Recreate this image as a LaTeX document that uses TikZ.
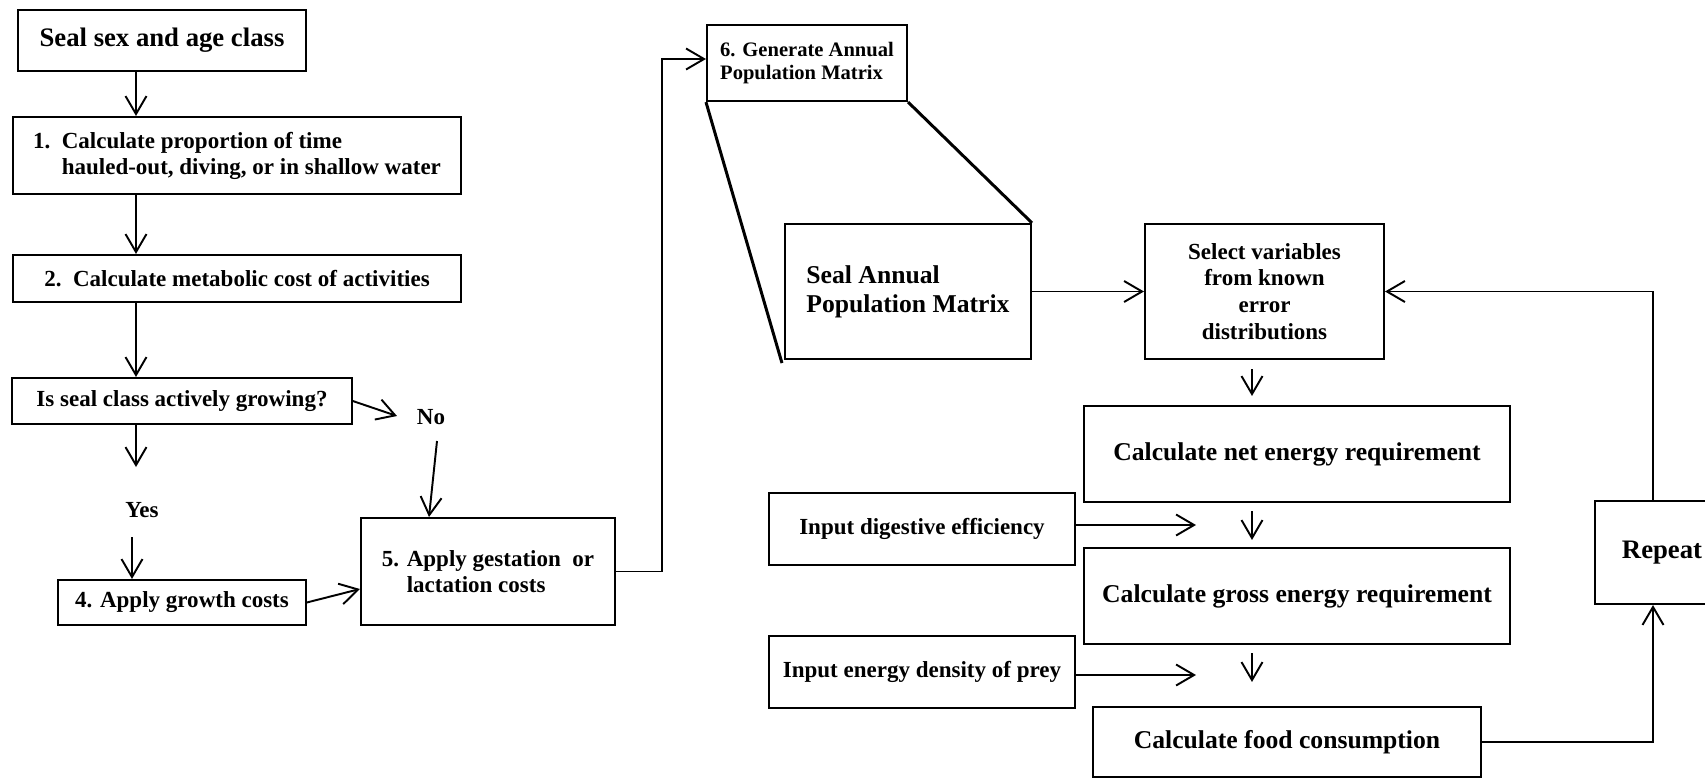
\documentclass[tikz,border=0pt]{standalone}
\usepackage{fontspec}
\setmainfont{Liberation Serif}
\usetikzlibrary{arrows.meta}

\begin{document}
\begin{tikzpicture}[x=0.02cm,y=-0.02cm,
	box/.style={draw,line width=1.2pt,inner sep=0pt,align=left},
	lbl/.style={inner sep=0pt},
	fS/.style={font=\fontsize{13.1}{14.8}\selectfont\bfseries},
	fT/.style={font=\fontsize{11.7}{13.1}\selectfont\bfseries},
	fL/.style={font=\fontsize{14.6}{16.5}\selectfont\bfseries},
	fH/.style={font=\fontsize{15.2}{17}\selectfont\bfseries},
	arr/.style={line width=1.1pt,-{Straight Barb[length=0.36cm,width=0.42cm]}}]
	\useasboundingbox (0,0) rectangle (1705,778);
	\clip (0,0) rectangle (1705,778);
	% Boxes links
	\node[box,fH,minimum width=5.76cm,minimum height=1.22cm] (sex) at (162,40.5) {Seal sex and age class};
	\node[box,fS,minimum width=8.97cm,minimum height=1.54cm] (time) at (237,155.5)
		{1.\ \ Calculate proportion of time\\\hphantom{1.\ \ }hauled-out, diving, or in shallow water};
	\node[box,fS,minimum width=8.97cm,minimum height=0.94cm] (cost) at (237,278.5) {2.\ \ Calculate metabolic cost of activities};
	\node[box,fS,minimum width=6.79cm,minimum height=0.92cm] (grow) at (182,401) {Is seal class actively growing?};
	\node[lbl,fS] (no) at (431,417) {No};
	\node[lbl,fS] (yes) at (142,510) {Yes};
	\node[box,fS,minimum width=4.95cm,minimum height=0.9cm] (growth) at (182,602.5) {4. Apply growth costs};
	\node[box,fS,minimum width=5.08cm,minimum height=2.14cm] (gest) at (488,571.5)
		{5. Apply gestation\ \ or\\\hphantom{5. }lactation costs};
	% Matrix
	\node[box,fT,minimum width=4cm,minimum height=1.52cm] (gen) at (807,63) {6. Generate Annual\\Population Matrix};
	\node[box,fL,minimum width=4.92cm,minimum height=2.7cm] (matrix) at (908,291.5) {Seal Annual\\Population Matrix};
	\node[box,fS,align=center,minimum width=4.78cm,minimum height=2.7cm,font=\fontsize{13.1}{15.2}\selectfont\bfseries] (select) at (1264.5,291.5)
		{Select variables\\from known\\error\\distributions};
	% Energie
	\node[box,fL,minimum width=8.52cm,minimum height=1.92cm] (net) at (1297,454) {Calculate net energy requirement};
	\node[box,fS,minimum width=6.12cm,minimum height=1.44cm] (dig) at (922,529) {Input digestive efficiency};
	\node[box,fL,minimum width=8.52cm,minimum height=1.92cm] (gross) at (1297,596) {Calculate gross energy requirement};
	\node[box,fS,minimum width=6.12cm,minimum height=1.44cm] (prey) at (922,672) {Input energy density of prey};
	\node[box,fL,minimum width=7.76cm,minimum height=1.4cm] (food) at (1287,742) {Calculate food consumption};
	\node[box,fH,minimum width=2.68cm,minimum height=2.06cm] (repeat) at (1662,552.5) {Repeat};
	% Hilfspunkte
	\coordinate (lane) at (136,0);
	\coordinate (noin) at (397,416);
	\coordinate (noout) at (437,441);
	\coordinate (yesin) at (136,467);
	\coordinate (yesout) at (132,537);
	\coordinate (spine) at (1252,0);
	\coordinate (gin) at (1196,525);
	\coordinate (ein) at (1196,675);
	% Pfeile links
	\draw[arr] (sex.south -| lane) -- (time.north -| lane);
	\draw[arr] (time.south -| lane) -- (cost.north -| lane);
	\draw[arr] (cost.south -| lane) -- (grow.north -| lane);
	\draw[arr] (grow.east) -- (noin);
	\draw[arr] (noout) -- ([xshift=-1.18cm]gest.north);
	\draw[arr] (grow.south -| lane) -- (yesin);
	\draw[arr] (yesout) -- (growth.north -| yesout);
	\draw[arr] (growth.east) -- ([yshift=-0.35cm]gest.west);
	\draw[arr] (gest.east) -- ++(46,0) |- ([yshift=0.08cm]gen.west);
	% Trichter
	\draw[line width=1.7pt] (gen.south west) -- ([shift={(-0.04cm,-0.06cm)}]matrix.south west);
	\draw[line width=1.7pt] (gen.south east) -- (matrix.north east);
	% Pfeile rechts
	\draw[arr] (matrix.east) -- (select.west);
	\draw[arr,shorten <=0.18cm,shorten >=0.18cm] (select.south -| spine) -- (net.north -| spine);
	\draw[arr,shorten <=0.16cm,shorten >=0.14cm] (net.south -| spine) -- (gross.north -| spine);
	\draw[arr,shorten <=0.16cm,shorten >=0.48cm] (gross.south -| spine) -- (food.north -| spine);
	\draw[arr] (dig.east |- gin) -- (gin);
	\draw[arr] (prey.east |- ein) -- (ein);
	\draw[arr] (food.east) -| ([xshift=-0.18cm]repeat.south);
	\draw[arr] ([xshift=-0.18cm]repeat.north) |- (select.east);
\end{tikzpicture}
\end{document}
